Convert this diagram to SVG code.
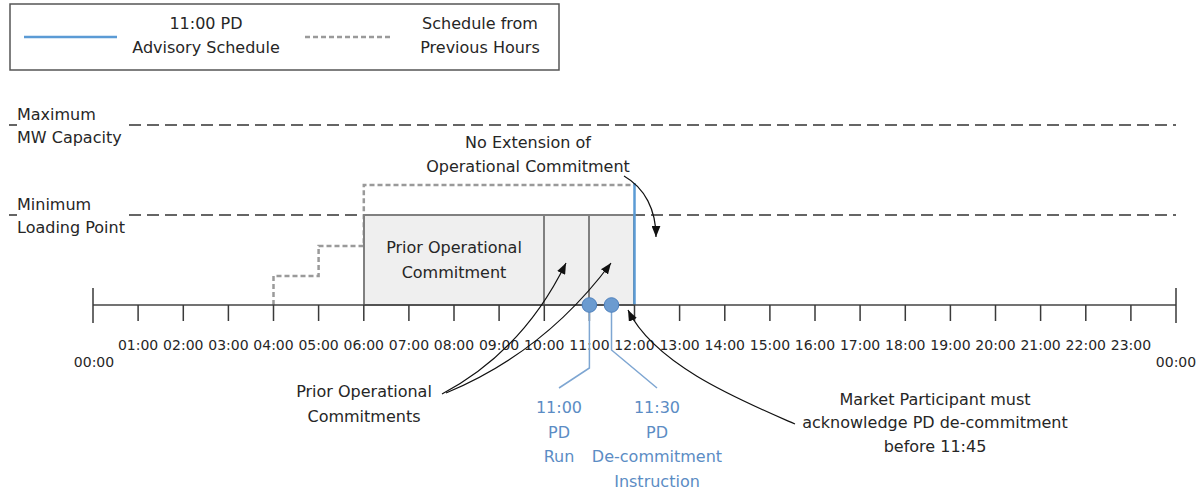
<svg xmlns="http://www.w3.org/2000/svg" width="1202" height="492" viewBox="0 0 1202 492">
<defs>
<style>
text{font-family:"DejaVu Sans","Liberation Sans",sans-serif;fill:#262626;font-size:16px}
.c{text-anchor:middle}
.tk{font-size:14px;text-anchor:middle}
.blue{fill:#5b8cc4}
.lvl{stroke:#333;stroke-width:1.5;stroke-dasharray:12 6;fill:none}
.prev{stroke:#9a9a9a;stroke-width:2.5;stroke-dasharray:5 3;fill:none}
.pd{stroke:#5b9bd5;stroke-width:2.5;fill:none}
.tick{stroke:#3a3a3a;stroke-width:1.5}
.arr{stroke:#111;stroke-width:1.2;fill:none;marker-end:url(#ah)}
.lead{stroke:#7ea6d2;stroke-width:1.5;fill:none}
.dot{fill:#6b9bd0;stroke:#4f81bd;stroke-width:1}
</style>
<marker id="ah" viewBox="0 0 10 8" refX="10" refY="4" markerWidth="11" markerHeight="9" markerUnits="userSpaceOnUse" orient="auto">
<path d="M0,0 L10,4 L0,8 z" fill="#111"/>
</marker>
</defs>
<rect width="1202" height="492" fill="#fff"/>

<g id="legend">
<rect x="10" y="4" width="549" height="66" fill="#fff" stroke="#555" stroke-width="1.5"/>
<line x1="24" y1="37" x2="117" y2="37" class="pd"/>
<text x="206" y="29" class="c">11:00 PD</text>
<text x="206" y="53" class="c">Advisory Schedule</text>
<line x1="305" y1="37" x2="392" y2="37" class="prev"/>
<text x="480" y="29" class="c">Schedule from</text>
<text x="480" y="53" class="c">Previous Hours</text>
</g>

<g id="max-capacity">
<path class="lvl" d="M9,125 H17 M129,125 H1176"/>
<text x="17" y="120">Maximum</text>
<text x="17" y="143">MW Capacity</text>
</g>

<g id="min-loading">
<path class="lvl" d="M9,215 H17 M129,215 H1176"/>
<text x="17" y="210">Minimum</text>
<text x="17" y="233">Loading Point</text>
</g>

<g id="previous-schedule">
<path class="prev" d="M273.5,305 V276 H318.6 V246 H363.8 V185 H634"/>
</g>

<g id="prior-commitment">
<rect x="364" y="215" width="270" height="90" fill="#efefef" stroke="#808080" stroke-width="2"/>
<line x1="544" y1="215" x2="544" y2="305" stroke="#808080" stroke-width="2"/>
<line x1="589" y1="215" x2="589" y2="305" stroke="#808080" stroke-width="2"/>
<text x="454" y="253" class="c">Prior Operational</text>
<text x="454" y="278" class="c">Commitment</text>
</g>

<g id="pd-schedule">
<line x1="634.5" y1="183" x2="634.5" y2="305" class="pd"/>
</g>

<g id="axis">
<line x1="93" y1="305" x2="1176" y2="305" stroke="#444" stroke-width="1.5"/>
<path class="tick" d="M93,288 V323 M1176,288 V323 M138.1,305 V321 M183.3,305 V321 M228.4,305 V321 M273.5,305 V321 M318.6,305 V321 M363.8,305 V321 M408.9,305 V321 M454,305 V321 M499.1,305 V321 M544.3,305 V321 M589.4,305 V321 M634.5,305 V321 M679.6,305 V321 M724.8,305 V321 M769.9,305 V321 M815,305 V321 M860.1,305 V321 M905.3,305 V321 M950.4,305 V321 M995.5,305 V321 M1040.6,305 V321 M1085.8,305 V321 M1130.9,305 V321"/>
<text class="tk" x="94" y="367">00:00</text>
<text class="tk" x="138.1" y="350">01:00</text>
<text class="tk" x="183.3" y="350">02:00</text>
<text class="tk" x="228.4" y="350">03:00</text>
<text class="tk" x="273.5" y="350">04:00</text>
<text class="tk" x="318.6" y="350">05:00</text>
<text class="tk" x="363.8" y="350">06:00</text>
<text class="tk" x="408.9" y="350">07:00</text>
<text class="tk" x="454" y="350">08:00</text>
<text class="tk" x="499.1" y="350">09:00</text>
<text class="tk" x="544.3" y="350">10:00</text>
<text class="tk" x="589.4" y="350">11:00</text>
<text class="tk" x="634.5" y="350">12:00</text>
<text class="tk" x="679.6" y="350">13:00</text>
<text class="tk" x="724.8" y="350">14:00</text>
<text class="tk" x="769.9" y="350">15:00</text>
<text class="tk" x="815" y="350">16:00</text>
<text class="tk" x="860.1" y="350">17:00</text>
<text class="tk" x="905.3" y="350">18:00</text>
<text class="tk" x="950.4" y="350">19:00</text>
<text class="tk" x="995.5" y="350">20:00</text>
<text class="tk" x="1040.6" y="350">21:00</text>
<text class="tk" x="1085.8" y="350">22:00</text>
<text class="tk" x="1130.9" y="350">23:00</text>
<text class="tk" x="1176" y="367">00:00</text>
</g>

<g id="connectors">
<path class="arr" d="M624,176 C645,188 656,210 656,237"/>
<path class="arr" d="M442,394 Q523,351 566,263"/>
<path class="arr" d="M446,393 Q545,352 611,263"/>
<path class="arr" d="M795,424 C740,400 655,365 628,310"/>
<path class="lead" d="M589.4,305 V368 L559,388"/>
<path class="lead" d="M611.5,305 V350 L657,388"/>
</g>

<g id="pd-run">
<circle cx="589.4" cy="305" r="7.3" class="dot"/>
<text x="559" y="413" class="c blue">11:00</text>
<text x="559" y="438" class="c blue">PD</text>
<text x="559" y="462" class="c blue">Run</text>
</g>

<g id="pd-decommit">
<circle cx="611.5" cy="305" r="7.3" class="dot"/>
<text x="657" y="413" class="c blue">11:30</text>
<text x="657" y="438" class="c blue">PD</text>
<text x="657" y="462" class="c blue">De-commitment</text>
<text x="657" y="487" class="c blue">Instruction</text>
</g>

<g id="no-extension">
<text x="528" y="148" class="c">No Extension of</text>
<text x="528" y="172" class="c">Operational Commitment</text>
</g>

<g id="prior-commitments-label">
<text x="364" y="397" class="c">Prior Operational</text>
<text x="364" y="422" class="c">Commitments</text>
</g>

<g id="acknowledge">
<text x="935" y="405" class="c">Market Participant must</text>
<text x="935" y="428" class="c">acknowledge PD de-commitment</text>
<text x="935" y="452" class="c">before 11:45</text>
</g>
</svg>
